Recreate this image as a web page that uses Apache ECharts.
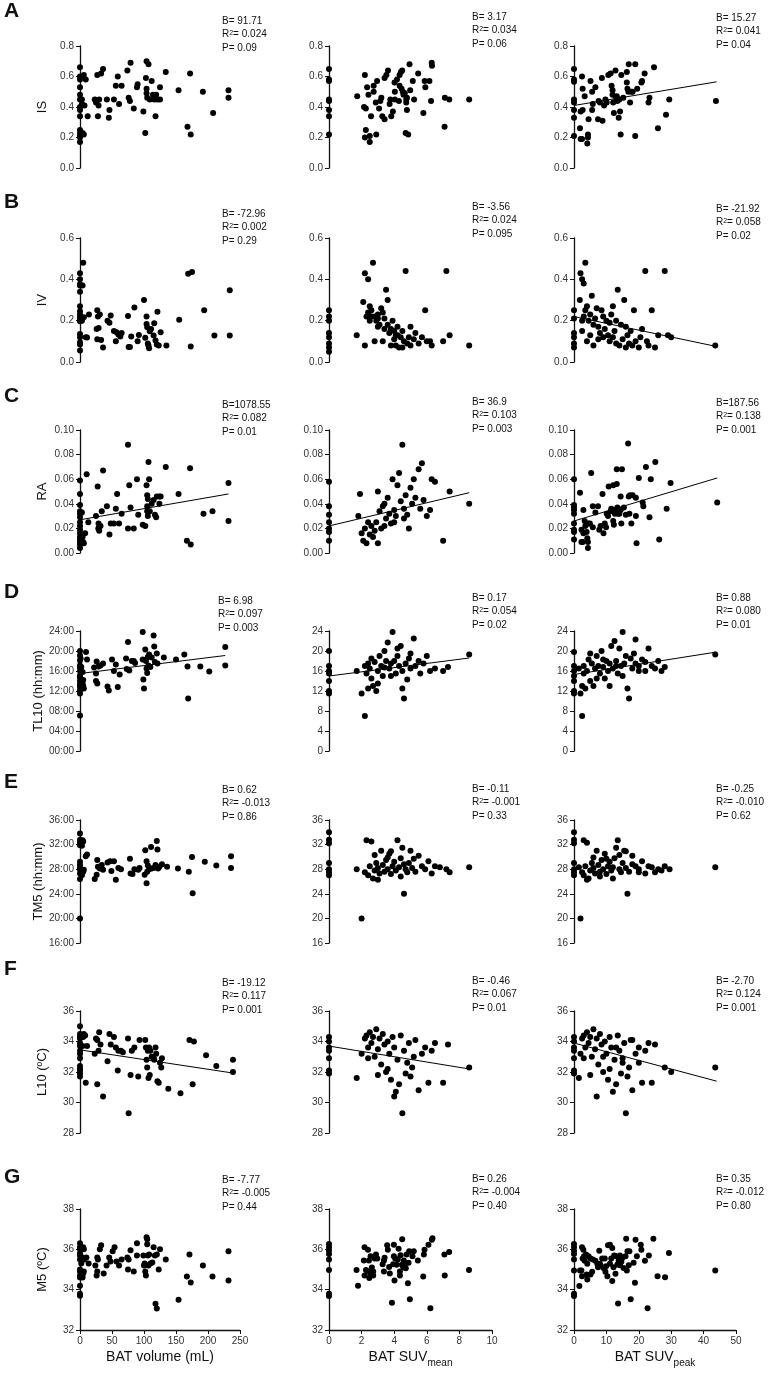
<!DOCTYPE html>
<html><head><meta charset="utf-8">
<script src="https://cdn.jsdelivr.net/npm/echarts@6/dist/echarts.min.js"></script>
<style>html,body{margin:0;padding:0;background:#fff}#c{width:770px;height:1376px}</style>
</head><body><div id="c"></div>
<script>
// ---------- DATA ----------
const rowLetters = ['A','B','C','D','E','F','G'];
const rowNames = ['IS','IV','RA','TL10 (hh:mm)','TM5 (hh:mm)','L10 (ºC)','M5 (ºC)'];
const xNames = ['BAT volume (mL)','{n|BAT SUV}{sub|mean}','{n|BAT SUV}{sub|peak}'];
const xMax = [250,10,50], xInt = [50,2,10];
const yMin = [0,0,0,0,16,28,32], yMax = [0.8,0.6,0.1,24,36,36,38], yInt = [0.2,0.2,0.02,4,4,2,2];

const statB = [['B= 91.71','B= 3.17','B= 15.27'],['B= -72.96','B= -3.56','B= -21.92'],['B=1078.55','B= 36.9','B=187.56'],['B= 6.98','B= 0.17','B= 0.88'],['B= 0.62','B= -0.11','B= -0.25'],['B= -19.12','B= -0.46','B= -2.70'],['B= -7.77','B= 0.26','B= 0.35']];
const statR2 = [['0.024','0.034','0.041'],['0.002','0.024','0.058'],['0.082','0.103','0.138'],['0.097','0.054','0.080'],['-0.013','-0.001','-0.010'],['0.117','0.067','0.124'],['-0.005','-0.004','-0.012']];
const statP = [['0.09','0.06','0.04'],['0.29','0.095','0.02'],['0.01','0.003','0.001'],['0.003','0.02','0.01'],['0.86','0.33','0.62'],['0.001','0.01','0.001'],['0.44','0.40','0.80']];

const isVol = [[0,0.66],[0,0.60],[0,0.58],[0,0.53],[0,0.48],[0,0.45],[0,0.40],[0,0.38],[0,0.34],[0,0.25],[0,0.23],[0,0.21],[0,0.20],[0,0.17],[3,0.45],[3,0.42],[6,0.61],[9,0.58],[7,0.41],[4,0.23],[6,0.22],[12,0.34],[23,0.45],[25,0.43],[27,0.61],[29,0.41],[30,0.45],[28,0.34],[33,0.62],[36,0.65],[42,0.45],[46,0.38],[45,0.33],[53,0.45],[56,0.54],[59,0.60],[61,0.42],[65,0.54],[74,0.64],[76,0.46],[78,0.44],[79,0.69],[84,0.39],[89,0.53],[90,0.55],[99,0.37],[102,0.23],[104,0.70],[107,0.68],[103,0.59],[104,0.52],[104,0.49],[105,0.46],[109,0.45],[112,0.57],[114,0.48],[116,0.45],[118,0.34],[119,0.48],[121,0.45],[125,0.53],[125,0.45],[134,0.63],[154,0.51],[172,0.62],[168,0.27],[173,0.22],[192,0.50],[208,0.36],[232,0.51],[232,0.46]];
const isMean = [[0,0.65],[0,0.58],[0,0.57],[0,0.45],[0,0.44],[0,0.38],[0,0.34],[0,0.22],[1.73,0.47],[2.2,0.61],[2.26,0.25],[2.34,0.53],[2.42,0.48],[2.2,0.20],[2.26,0.39],[2.15,0.40],[2.5,0.21],[2.5,0.17],[2.58,0.34],[2.74,0.50],[2.74,0.54],[2.87,0.43],[2.9,0.22],[2.95,0.57],[3.07,0.39],[3.15,0.44],[3.21,0.46],[3.27,0.34],[3.41,0.32],[3.41,0.59],[3.52,0.61],[3.62,0.64],[3.76,0.45],[3.72,0.42],[3.82,0.34],[3.92,0.37],[4.02,0.56],[4.04,0.50],[4.04,0.45],[4.17,0.58],[4.29,0.44],[4.33,0.61],[4.33,0.54],[4.41,0.63],[4.45,0.52],[4.49,0.64],[4.53,0.50],[4.57,0.48],[4.65,0.49],[4.74,0.45],[4.74,0.43],[4.78,0.46],[4.78,0.38],[4.7,0.23],[4.86,0.22],[4.94,0.68],[4.98,0.51],[5.14,0.57],[5.22,0.45],[5.47,0.62],[5.79,0.36],[5.87,0.57],[5.91,0.53],[6.16,0.57],[6.26,0.44],[6.30,0.69],[6.32,0.67],[7.11,0.46],[7.09,0.27],[7.38,0.45],[8.6,0.45]];
const isPeak = [[0,0.65],[0,0.58],[0,0.565],[0,0.45],[0,0.43],[0,0.38],[0,0.33],[0,0.21],[1.85,0.26],[2.06,0.19],[2.47,0.19],[2.47,0.60],[2.67,0.52],[2.06,0.37],[2.67,0.38],[3.29,0.47],[4.1,0.16],[4.3,0.22],[4.5,0.32],[4.3,0.20],[5.1,0.57],[5.6,0.38],[5.6,0.50],[5.8,0.42],[6.6,0.53],[7.4,0.32],[7.6,0.44],[8.0,0.43],[8.6,0.59],[8.8,0.31],[9.3,0.41],[9.7,0.45],[10.1,0.43],[10.6,0.61],[11.3,0.62],[11.6,0.54],[11.9,0.51],[11.9,0.48],[12.1,0.43],[12.3,0.36],[12.8,0.64],[13.0,0.46],[13.2,0.47],[13.4,0.44],[13.8,0.33],[14.0,0.45],[14.2,0.37],[14.4,0.22],[14.6,0.61],[15.2,0.46],[16.3,0.63],[16.3,0.56],[16.5,0.52],[16.8,0.50],[16.9,0.68],[17.3,0.43],[17.7,0.50],[18.1,0.50],[18.9,0.68],[18.9,0.21],[19.5,0.52],[20.8,0.56],[21.0,0.57],[21.8,0.62],[23.0,0.43],[23.3,0.46],[24.7,0.66],[25.9,0.26],[28.4,0.35],[29.4,0.45],[43.8,0.44]];
const fitIsPeak = [[0,0.41],[44,0.565]];

const ivVol = [[0,0.43],[0,0.40],[0,0.376],[0,0.37],[0,0.34],[0,0.27],[0,0.245],[0,0.23],[0,0.216],[0,0.208],[0,0.197],[0,0.136],[0,0.12],[0,0.096],[0,0.085],[0,0.056],[5,0.48],[4,0.37],[6,0.216],[9,0.12],[11,0.118],[14,0.23],[3,0.20],[27,0.25],[28,0.22],[31,0.23],[29,0.165],[26,0.16],[27,0.11],[33,0.107],[36,0.07],[43,0.20],[46,0.19],[48,0.225],[53,0.15],[56,0.10],[57,0.144],[60,0.133],[63,0.123],[65,0.14],[75,0.222],[76,0.072],[78,0.072],[80,0.123],[85,0.264],[90,0.10],[92,0.131],[100,0.30],[102,0.117],[104,0.22],[104,0.184],[105,0.168],[106,0.09],[107,0.08],[108,0.066],[109,0.149],[111,0.16],[115,0.128],[116,0.187],[118,0.104],[120,0.085],[121,0.243],[123,0.08],[126,0.144],[135,0.08],[155,0.205],[169,0.427],[175,0.435],[173,0.075],[194,0.25],[210,0.128],[234,0.128],[234,0.347]];
const ivMean = [[0,0.25],[0,0.22],[0,0.20],[0,0.14],[0,0.12],[0,0.09],[0,0.07],[0,0.05],[1.7,0.13],[2.1,0.29],[2.2,0.43],[2.2,0.08],[2.3,0.22],[2.4,0.40],[2.4,0.24],[2.5,0.27],[2.5,0.20],[2.6,0.25],[2.6,0.22],[2.7,0.48],[2.8,0.22],[2.8,0.10],[2.9,0.20],[3.0,0.21],[3.0,0.17],[3.0,0.23],[3.1,0.18],[3.2,0.26],[3.3,0.24],[3.3,0.10],[3.4,0.21],[3.4,0.16],[3.5,0.35],[3.6,0.30],[3.6,0.18],[3.7,0.14],[3.8,0.16],[3.8,0.08],[3.9,0.20],[4.0,0.15],[4.0,0.11],[4.1,0.08],[4.1,0.13],[4.2,0.13],[4.2,0.17],[4.3,0.07],[4.4,0.12],[4.5,0.15],[4.5,0.07],[4.6,0.10],[4.7,0.44],[4.8,0.09],[4.9,0.12],[5.0,0.08],[5.0,0.17],[5.2,0.11],[5.3,0.14],[5.5,0.09],[5.7,0.12],[5.9,0.25],[6.0,0.10],[6.2,0.10],[6.3,0.08],[7.0,0.10],[7.2,0.44],[7.4,0.13],[8.6,0.08]];
const ivPeak = [[0,0.25],[0,0.21],[0,0.14],[0,0.12],[0,0.09],[0,0.07],[2,0.43],[2.5,0.40],[3,0.38],[3.5,0.48],[1.8,0.30],[2.5,0.15],[2.5,0.20],[3,0.22],[3.5,0.25],[4,0.27],[4.5,0.20],[5,0.23],[5.5,0.32],[6,0.18],[6.5,0.21],[7,0.26],[7.5,0.17],[8,0.14],[8.5,0.25],[9,0.12],[9.5,0.16],[10,0.20],[10.5,0.13],[11,0.10],[11.5,0.23],[12,0.12],[12.5,0.15],[13,0.09],[13.5,0.35],[14,0.08],[14.5,0.18],[15,0.11],[15.5,0.30],[16,0.07],[16.5,0.13],[17,0.09],[17.5,0.15],[18,0.08],[18.5,0.25],[19,0.10],[20,0.07],[20.5,0.12],[21,0.16],[22,0.44],[22.5,0.10],[23,0.08],[24,0.25],[25,0.07],[26,0.13],[28,0.44],[29,0.13],[30,0.12],[43.6,0.08],[4,0.10],[5,0.13],[6,0.08],[7.5,0.11],[9,0.22],[11,0.19],[12,0.27],[13,0.20],[16,0.17]];
const fitIvPeak = [[0,0.22],[44,0.075]];

const raVol = [[0,0.059],[0,0.048],[0,0.039],[0,0.034],[0,0.032],[0,0.029],[0,0.025],[0,0.022],[0,0.019],[0,0.016],[0,0.013],[0,0.011],[0,0.009],[0,0.007],[0,0.004],[3,0.033],[4,0.013],[5,0.009],[10.4,0.064],[13,0.025],[8,0.016],[6,0.008],[25,0.030],[27.6,0.054],[29,0.024],[28.6,0.020],[30,0.018],[32,0.022],[34,0.034],[36,0.067],[42,0.038],[46,0.015],[48,0.024],[53,0.024],[56,0.036],[58,0.048],[61,0.024],[65,0.032],[75,0.088],[77,0.055],[75,0.020],[79,0.037],[84,0.020],[89,0.060],[91,0.031],[98,0.023],[102,0.022],[104,0.055],[105,0.047],[106,0.044],[105,0.038],[107,0.074],[108,0.060],[105,0.034],[106,0.030],[109,0.034],[112,0.040],[115,0.043],[117,0.031],[119,0.029],[120,0.046],[124,0.046],[126,0.046],[124,0.040],[134,0.070],[154,0.048],[167,0.010],[173,0.007],[172,0.069],[193,0.032],[207,0.034],[232,0.057],[232,0.026]];
const raMean = [[0,0.058],[0,0.038],[0,0.031],[0,0.025],[0,0.020],[0,0.017],[0,0.010],[1.8,0.030],[1.9,0.048],[2.0,0.016],[2.1,0.010],[2.2,0.020],[2.3,0.008],[2.4,0.025],[2.5,0.015],[2.6,0.022],[2.7,0.013],[2.8,0.018],[2.9,0.025],[3.0,0.008],[3.0,0.050],[3.1,0.034],[3.2,0.020],[3.3,0.038],[3.4,0.022],[3.4,0.040],[3.5,0.028],[3.6,0.045],[3.7,0.032],[3.8,0.024],[3.9,0.060],[4.0,0.035],[4.0,0.025],[4.1,0.030],[4.2,0.055],[4.3,0.065],[4.4,0.042],[4.5,0.088],[4.6,0.036],[4.6,0.028],[4.7,0.047],[4.8,0.031],[4.9,0.020],[5.0,0.053],[5.1,0.040],[5.2,0.060],[5.3,0.045],[5.5,0.068],[5.6,0.036],[5.7,0.073],[5.8,0.043],[6.0,0.030],[6.2,0.035],[6.3,0.060],[6.5,0.058],[7.0,0.010],[7.4,0.050],[8.6,0.040]];
const raPeak = [[0,0.060],[0,0.039],[0,0.037],[0,0.035],[0,0.032],[0,0.024],[0,0.019],[0,0.017],[0,0.011],[1.85,0.049],[2.3,0.019],[2.3,0.009],[2.7,0.009],[2.9,0.035],[2.9,0.016],[3.3,0.026],[3.5,0.022],[3.9,0.017],[4.1,0.012],[4.3,0.009],[4.3,0.004],[4.5,0.024],[4.9,0.024],[5.3,0.065],[5.8,0.038],[5.8,0.021],[6.6,0.033],[7.4,0.038],[7.8,0.019],[8.2,0.022],[8.8,0.048],[9.1,0.016],[9.5,0.024],[9.9,0.021],[10.1,0.032],[10.5,0.030],[10.7,0.054],[11.3,0.034],[11.5,0.036],[12.1,0.055],[12.1,0.026],[12.3,0.023],[12.6,0.032],[12.8,0.035],[13.2,0.056],[13.2,0.068],[13.4,0.037],[13.6,0.032],[14.0,0.032],[14.4,0.046],[14.6,0.024],[14.4,0.035],[14.8,0.068],[15.4,0.037],[16.0,0.031],[16.7,0.089],[16.9,0.046],[17.3,0.047],[17.1,0.032],[17.7,0.024],[18.1,0.047],[19.1,0.030],[19.1,0.045],[19.3,0.008],[20.0,0.061],[21.2,0.041],[21.4,0.038],[22.2,0.070],[23.3,0.029],[23.7,0.060],[25.1,0.074],[26.3,0.011],[28.6,0.036],[29.8,0.057],[44.2,0.041]];
const fitRaVol = [[0,0.027],[232,0.048]];
const fitRaMean = [[0,0.022],[8.6,0.049]];
const fitRaPeak = [[0,0.026],[44.2,0.061]];

const tlVol = [[0,20.0],[0,19.1],[0,18.1],[0,17.1],[0,16.7],[0,16.0],[0,15.1],[0,14.7],[0,14.0],[0,13.3],[0,12.8],[0,12.1],[0,11.5],[0,7.1],[1,18.5],[2,16.8],[4,15.8],[5,14.2],[4,13.5],[5,13.0],[6,12.5],[9.4,19.8],[11,18.3],[22,16.7],[25,15.5],[26,17.9],[25,14.0],[27,13.5],[29,16.9],[32,17.1],[36,17.5],[43,12.9],[45,12.1],[50,18.3],[53,16.0],[56,17.3],[59,12.8],[62,15.3],[72,18.5],[73,16.4],[75,21.8],[77,16.1],[81,18.0],[84,18.0],[86,17.6],[98,18.3],[98,23.8],[99,14.3],[100,12.5],[102,20.3],[103,18.0],[104,16.5],[105,15.6],[106,18.8],[107,17.1],[108,19.3],[110,16.8],[112,18.7],[115,23.1],[116,20.9],[117,17.8],[120,19.5],[121,17.5],[131,18.7],[150,18.3],[163,19.3],[168,16.9],[169,10.5],[188,16.9],[202,15.9],[227,20.8],[227,17.1]];
const tlMean = [[0,20],[0,17],[0,16],[0,15.5],[0,14],[0,12],[0,11.5],[1.7,16],[2.0,11.5],[2.2,7],[2.2,17],[2.3,15.5],[2.4,12.5],[2.4,17.5],[2.5,16.5],[2.6,14.5],[2.6,18.5],[2.7,13],[2.8,17.8],[2.9,12],[3.0,16],[3.0,13.5],[3.1,19],[3.2,17],[3.3,15],[3.4,20],[3.4,16.7],[3.5,18],[3.6,21.7],[3.7,16.5],[3.8,17.5],[3.8,15],[3.9,23.8],[4.0,18],[4.1,15.5],[4.2,19],[4.2,20.5],[4.3,17],[4.4,21],[4.5,12.5],[4.5,16],[4.6,10.5],[4.7,17.5],[4.8,14.3],[4.9,18.5],[5.0,16.5],[5.0,19.5],[5.2,22.5],[5.3,17],[5.5,18],[5.6,15.5],[5.8,17.5],[6.0,19],[6.2,16],[6.5,16.5],[7.0,16],[7.3,16.8],[8.6,19.3]];
const tlPeak = [[0,19.8],[0,17],[0,16],[0,15],[0,14],[0,12],[0,11.5],[1.5,16.5],[2,11.5],[2.5,7],[2.5,13],[3,17],[3,15.5],[3.5,12.5],[4,16],[4.5,18.3],[5,14],[5,19.5],[5.5,17.5],[6,13],[6.5,16.5],[7,19],[7,14.5],[7.5,17],[8,15.5],[8.5,20],[9,16.8],[9,18.3],[9.5,14.5],[10,18],[10.5,16],[11,17.5],[11,13],[11.5,21],[12,16.5],[12.5,22],[13,18],[13,17],[13.5,15.5],[14,20.5],[14.5,17],[15,23.8],[15,15],[15.5,17.5],[16,19],[16.5,12.5],[17,10.5],[17.5,18.5],[18,16.5],[18.5,19.5],[19,17.5],[19,22.3],[20,16],[20,17],[21,18.3],[22,17.8],[22,16],[23,20.5],[24,17],[25,16.5],[26,18],[27,16],[28,16.8],[43.6,19.3]];
const fitTlVol = [[0,15.5],[227,19.1]];
const fitTlMean = [[0,15.0],[8.6,18.6]];
const fitTlPeak = [[0,15.3],[44,19.8]];

const tmVol = [[0,33.8],[0,32.8],[0,32.4],[0,31.9],[0,29.2],[0,28.7],[0,28.2],[0,27.9],[0,27.3],[0,26.4],[0,20.0],[4,32.7],[5,32.5],[3,31.8],[6,27.9],[5,27.6],[3,27.0],[11,30.4],[9,30.1],[23,26.4],[27,29.5],[28,28.4],[26,27.1],[31,28.1],[34,28.7],[36,27.9],[43,29.1],[47,29.3],[49,27.7],[53,29.3],[56,26.3],[60,28.2],[64,28.0],[78,29.7],[79,27.3],[82,27.2],[85,28.0],[91,27.9],[93,28.2],[101,27.1],[102,31.1],[104,29.3],[104,25.7],[105,27.6],[106,28.6],[108,28.0],[111,31.6],[112,28.1],[115,28.2],[118,28.7],[120,32.6],[121,31.2],[122,28.1],[124,28.4],[128,28.8],[136,28.4],[153,28.1],[170,27.6],[175,30.0],[176,24.1],[195,29.2],[213,28.6],[236,30.1],[236,28.2]];
const tmMean = [[0,34.0],[0,32.8],[0,32.2],[0,29.0],[0,28.0],[0,27.5],[0,27.0],[1.7,28],[2,20],[2.2,27.5],[2.3,32.7],[2.4,27],[2.5,28.5],[2.6,32.5],[2.7,26.5],[2.8,27.8],[2.8,30.3],[2.9,29],[3.0,28.2],[3.0,26.3],[3.1,27.3],[3.2,31],[3.3,28.7],[3.4,27.6],[3.5,29.5],[3.6,28],[3.6,29.9],[3.7,30.5],[3.8,27.2],[3.8,30.9],[3.9,28.5],[4.0,29.2],[4.1,27.8],[4.2,32.7],[4.3,28.3],[4.4,29.8],[4.4,26.8],[4.5,31.5],[4.6,24],[4.6,28.8],[4.7,28],[4.8,27.5],[4.9,29],[5.0,31],[5.1,28.2],[5.2,29.7],[5.3,27.6],[5.5,30.2],[5.7,28.5],[5.9,28],[6.1,29.3],[6.3,27.3],[6.5,28.5],[6.8,28.3],[7.2,28],[7.4,27.5],[8.6,28.3]];
const tmPeak = [[0,34.0],[0,32.8],[0,32.2],[0,29.0],[0,28.0],[0,27.5],[0,27.0],[1.5,28.3],[2,20],[2.5,27.5],[3,32.7],[3,27],[3.5,28.5],[4,32.3],[4,26.3],[4.5,26.5],[5,27.8],[5.5,29],[6,28.2],[6,29.9],[6.5,27.3],[7,31],[7.5,28.7],[8,27.6],[8,26.8],[8.5,29.5],[9,28],[9.5,30.5],[10,27.2],[10,29.7],[10.5,28.5],[11,29.2],[11.5,27.8],[12,28.3],[12,26.5],[12.5,29.8],[13,31.5],[13.5,32.7],[14,28],[14,30.3],[14.5,27.5],[15,29],[15.5,31],[16,28.2],[16,30.9],[16.5,24],[17,27.6],[18,30.2],[18,28.8],[19,28.5],[20,28],[20,27.5],[21,29.3],[22,27.3],[23,28.5],[24,28.3],[25,27.5],[26,28],[27,27.8],[28,28.5],[29.5,28],[43.6,28.3]];

const l10Vol = [[0,35.0],[0,34.5],[0,34.3],[0,34.2],[0,33.9],[0,33.7],[0,33.4],[0,33.2],[0,32.9],[0,32.4],[0,32.2],[0,32.1],[0,31.9],[0,31.7],[5,34.3],[6,34.5],[4,33.7],[8,34.4],[9,31.3],[11,33.7],[23,33.2],[25,34.2],[27,34.1],[29,33.4],[27,31.2],[30,34.6],[32,33.8],[36,30.4],[43,32.7],[46,34.5],[48,33.8],[53,34.3],[56,33.6],[59,32.1],[60,33.4],[64,33.4],[67,33.3],[75,34.2],[76,29.3],[79,31.8],[81,33.4],[85,33.6],[91,31.7],[93,34.1],[102,34.1],[103,33.6],[104,32.8],[105,32.3],[106,33.4],[107,31.6],[108,33.6],[109,31.8],[110,33.4],[112,33.0],[115,32.9],[116,32.8],[118,33.6],[119,33.2],[121,31.4],[123,31.3],[125,32.6],[127,32.3],[128,32.9],[138,30.9],[157,30.6],[171,34.1],[178,34.0],[176,31.2],[197,33.1],[213,32.4],[239,32.8],[239,32.0]];
const l10Mean = [[0,34.3],[0,34.0],[0,33.6],[0,33.4],[0,32.9],[0,32.1],[0,31.9],[1.7,31.6],[2.0,33.2],[2.2,34.2],[2.3,34.4],[2.4,33.6],[2.4,32.9],[2.5,34.6],[2.6,33.9],[2.7,34.3],[2.8,33.0],[2.9,34.8],[3.0,33.5],[3.0,31.8],[3.1,34.2],[3.2,32.5],[3.3,34.5],[3.4,33.8],[3.5,32.0],[3.6,34.0],[3.6,32.2],[3.7,33.2],[3.8,31.5],[3.9,34.3],[4.0,33.6],[4.0,30.4],[4.1,30.7],[4.2,32.8],[4.3,31.2],[4.4,34.4],[4.5,29.3],[4.6,33.4],[4.7,31.9],[4.8,32.6],[4.9,33.9],[5.0,31.7],[5.1,32.3],[5.2,33.0],[5.3,34.1],[5.5,30.8],[5.7,33.2],[5.9,33.6],[6.1,31.3],[6.3,33.4],[6.5,33.9],[7.0,31.3],[7.3,33.8],[8.6,32.3]];
const l10Peak = [[0,34.3],[0,34.0],[0,33.6],[0,33.4],[0,32.9],[0,32.1],[0,31.9],[1.5,31.6],[2,33.2],[2.5,34.2],[3,34.4],[3,32.9],[3.5,33.6],[4,34.6],[4.5,33.9],[5,34.3],[5,31.8],[5.5,33],[6,34.8],[6.5,33.5],[7,34.2],[7,30.4],[7.5,32.5],[8,34.5],[8.5,33.8],[9,32],[9,33],[9.5,34],[10,33.2],[10.5,31.5],[11,34.3],[11,32.2],[11.5,33.6],[12,30.7],[12.5,32.8],[13,31.2],[13,33.6],[13.5,34.4],[14,33.4],[14.5,31.9],[15,32.6],[15,32.9],[15.5,33.9],[16,29.3],[16.5,31.7],[17,32.3],[17.5,34.1],[18,30.8],[18,34.1],[19,33.2],[20,33.6],[20,32.6],[21,31.3],[22,33.4],[23,33.9],[24,31.3],[25,33.8],[28,32.3],[30,32],[43.6,32.3]];
const fitL10Vol = [[0,33.45],[236,31.95]];
const fitL10Mean = [[0,33.7],[8.6,32.2]];
const fitL10Peak = [[0,33.9],[44,31.4]];

const m5Vol = [[0,36.3],[0,36.1],[0,36.0],[0,35.8],[0,35.7],[0,35.5],[0,35.0],[0,34.9],[0,34.7],[0,34.6],[0,34.2],[0,33.8],[0,33.7],[5,36.1],[6,36.0],[4,35.6],[7,35.5],[2,35.3],[5,34.8],[6,34.9],[4,34.6],[10,35.6],[13.5,35.3],[24,35.2],[27,35.6],[28,35.5],[27,34.9],[26,34.7],[31,36.0],[33,36.2],[37,34.8],[41.5,35.2],[45.6,35.6],[47.7,35.4],[51,35.9],[54,36.1],[57,35.4],[61,35.2],[65,35.5],[74,35.6],[76,35.5],[75,35.0],[79,35.95],[84,34.9],[89,36.3],[89,35.7],[99,35.7],[100,35.2],[101,35.3],[102,34.9],[103,34.7],[104,36.6],[105,36.5],[105,36.25],[106,35.7],[107,35.2],[108,35.75],[110,35.3],[113,35.35],[115,36.1],[117,35.7],[118,33.3],[120,33.06],[120,35.75],[123,35.0],[125,36.0],[134,35.5],[154,33.5],[167,34.65],[171,35.75],[173,34.35],[192,35.2],[207,34.65],[232,35.9],[232,34.45]];
const m5Mean = [[0,36.26],[0,36.1],[0,35.94],[0,35.77],[0,35.5],[0,34.97],[0,33.8],[0,33.68],[1.69,34.97],[1.78,34.2],[2.18,36.1],[2.18,34.7],[2.14,35.45],[2.27,34.97],[2.39,35.98],[2.39,34.9],[2.45,35.45],[2.47,34.58],[2.55,35.66],[2.55,34.8],[2.63,35.1],[2.71,34.7],[2.71,34.9],[2.8,35.55],[2.88,35.74],[2.96,35.55],[3.29,35.26],[3.37,35.45],[3.41,35.58],[3.37,34.9],[3.57,36.2],[3.61,35.98],[3.69,35.13],[3.73,34.8],[3.86,33.35],[3.94,35.26],[3.98,36.23],[3.98,35.66],[4.02,34.45],[4.06,35.55],[4.14,35.23],[4.22,35.5],[4.27,36.03],[4.35,34.9],[4.35,34.7],[4.39,35.71],[4.47,35.23],[4.49,36.5],[4.55,35.13],[4.59,35.45],[4.63,35.1],[4.67,35.29],[4.71,35.06],[4.76,35.74],[4.84,34.32],[4.88,35.34],[4.92,35.9],[4.96,33.52],[5.12,35.66],[5.2,35.9],[5.45,35.45],[5.82,35.74],[5.86,35.98],[5.78,34.65],[6.1,36.23],[6.22,33.08],[6.31,36.47],[6.35,36.55],[7.08,35.74],[7.1,34.7],[7.37,35.87],[8.59,34.97]];
const m5Peak = [[0,36.26],[0,36.1],[0,35.93],[0,35.77],[0,35.49],[0,34.95],[0,33.8],[0,33.69],[1.65,34.18],[1.86,34.95],[2.27,34.95],[2.47,36.1],[2.47,34.67],[2.68,35.54],[2.89,35.98],[3.1,35.66],[3.3,35.44],[3.7,35.74],[3.9,34.75],[4.1,35.28],[4.1,34.5],[4.5,35.66],[5.1,35.54],[5.1,34.75],[5.6,34.89],[5.8,35.49],[6.6,35.44],[7.2,35.28],[7.4,35.11],[7.8,35.93],[8.0,35.28],[8.2,35.21],[8.7,35.54],[9.1,35.08],[9.5,35.54],[9.7,34.89],[9.9,35.16],[10.3,34.67],[10.5,36.2],[11.1,36.23],[11.1,35.28],[11.5,35.54],[11.8,34.43],[11.8,36.07],[12.2,35.11],[12.4,35.7],[12.8,34.79],[13.0,35.66],[13.4,35.25],[13.6,33.31],[13.8,35.44],[14.2,35.7],[14.2,35.21],[14.6,35.38],[14.8,35.54],[15.3,35.08],[15.9,35.66],[16.1,36.52],[16.3,34.95],[16.5,35.9],[16.9,35.21],[17.1,35.9],[17.5,33.52],[18.4,35.33],[18.8,34.34],[19.0,36.48],[19.4,35.66],[20.6,36.23],[20.8,35.98],[21.9,35.44],[22.7,33.08],[23.1,35.7],[24.5,36.52],[25.8,34.67],[28.1,34.62],[29.3,35.82],[43.6,34.95]];

// ---------- LAYOUT ----------
const rowTop = [46, 238, 430, 631, 820, 1011, 1209];
const rowH   = [122, 124, 123, 120, 123, 122, 121];
const colLeft = [80, 329, 574];
const colW    = [160, 163, 162];
const statPos = [
  [[222,21],[472,17],[716,18]],
  [[222,214],[472,207],[716,209]],
  [[222,405],[472,402],[716,403]],
  [[218,601],[472,598],[716,598]],
  [[222,790],[472,789],[716,789]],
  [[222,983],[472,981],[716,981]],
  [[222,1180],[472,1179],[716,1179]]
];
const letterBase = [22, 213, 407, 603, 793, 980, 1188];

const allData = [[isVol,isMean,isPeak],[ivVol,ivMean,ivPeak],[raVol,raMean,raPeak],[tlVol,tlMean,tlPeak],[tmVol,tmMean,tmPeak],[l10Vol,l10Mean,l10Peak],[m5Vol,m5Mean,m5Peak]];
const allFits = [[null,null,fitIsPeak],[null,null,fitIvPeak],[fitRaVol,fitRaMean,fitRaPeak],[fitTlVol,fitTlMean,fitTlPeak],[null,null,null],[fitL10Vol,fitL10Mean,fitL10Peak],[null,null,null]];

const FF = '"Liberation Sans", Arial, Helvetica, sans-serif';
function yFmt(r, c) {
  return function (v) {
    if (r <= 1) return v.toFixed(1);
    if (r === 2) return v.toFixed(2);
    if ((r === 3 || r === 4) && c === 0) return String(Math.round(v)).padStart(2, '0') + ':00';
    return String(Math.round(v));
  };
}

const grid = [], xAxis = [], yAxis = [], series = [], graphic = [];
for (let r = 0; r < 7; r++) {
  for (let c = 0; c < 3; c++) {
    const idx = r * 3 + c;
    grid.push({left: colLeft[c], top: rowTop[r], width: colW[c], height: rowH[r], containLabel: false, outerBoundsMode: 'none'});
    xAxis.push({
      gridIndex: idx, type: 'value', min: 0, max: xMax[c], interval: xInt[c], show: r === 6,
      axisLine: {show: true, onZero: false, lineStyle: {color: '#111', width: 1.3}},
      axisTick: {show: true, inside: false, length: 4, lineStyle: {color: '#111', width: 1}},
      axisLabel: {show: true, fontSize: 10, color: '#333', margin: 6, fontFamily: FF},
      splitLine: {show: false},
      name: r === 6 ? xNames[c] : '', nameLocation: 'middle', nameGap: 20,
      nameTextStyle: {fontSize: 14, color: '#111', fontFamily: FF,
        rich: {n: {fontSize: 14, color: '#111', fontFamily: FF, verticalAlign: 'top'},
               sub: {fontSize: 10, color: '#111', fontFamily: FF, verticalAlign: 'top', padding: [8, 0, 0, 0]}}}
    });
    yAxis.push({
      gridIndex: idx, type: 'value', min: yMin[r], max: yMax[r], interval: yInt[r],
      axisLine: {show: true, onZero: false, lineStyle: {color: '#111', width: 1.3}},
      axisTick: {show: true, inside: false, length: 4, lineStyle: {color: '#111', width: 1}},
      axisLabel: {show: true, fontSize: 10, color: '#333', margin: 6, fontFamily: FF, formatter: yFmt(r, c)},
      splitLine: {show: false},
      name: c === 0 ? rowNames[r] : '', nameLocation: 'middle', nameGap: 31, nameRotate: 90,
      nameTextStyle: {fontSize: 13, color: '#111', fontFamily: FF}
    });
    series.push({type: 'scatter', xAxisIndex: idx, yAxisIndex: idx, data: allData[r][c],
      symbol: 'circle', symbolSize: 6, itemStyle: {color: '#000', opacity: 1}, clip: false, silent: true, z: 3});
    const f = allFits[r][c];
    if (f) series.push({type: 'line', xAxisIndex: idx, yAxisIndex: idx, data: f, symbol: 'none', showSymbol: false,
      lineStyle: {color: '#000', width: 1}, silent: true, clip: false, z: 2});
    const [sx, sy] = statPos[r][c];
    const ts = {fontSize: 10, fill: '#111', fontFamily: FF, verticalAlign: 'middle', textVerticalAlign: 'middle', align: 'left'};
    graphic.push({type: 'text', x: sx, y: sy, silent: true, style: Object.assign({text: statB[r][c]}, ts)});
    graphic.push({type: 'text', x: sx, y: sy + 13.5, silent: true, style: Object.assign({
      text: '{n|R}{sup|2}{n|= ' + statR2[r][c] + '}',
      rich: {n: {fontSize: 10, fill: '#111', fontFamily: FF, verticalAlign: 'top'},
             sup: {fontSize: 7, fill: '#111', fontFamily: FF, verticalAlign: 'top'}}
    }, ts)});
    graphic.push({type: 'text', x: sx, y: sy + 27, silent: true, style: Object.assign({text: 'P= ' + statP[r][c]}, ts)});
  }
  graphic.push({type: 'text', x: 4, y: letterBase[r], silent: true,
    style: {text: rowLetters[r], fontSize: 21, fontWeight: 'bold', fill: '#111', fontFamily: FF, verticalAlign: 'bottom', textVerticalAlign: 'bottom'}});
}

const chart = echarts.init(document.getElementById('c'), null, {renderer: 'canvas'});
chart.setOption({animation: false, backgroundColor: '#fff', grid, xAxis, yAxis, series, graphic});
</script></body></html>
